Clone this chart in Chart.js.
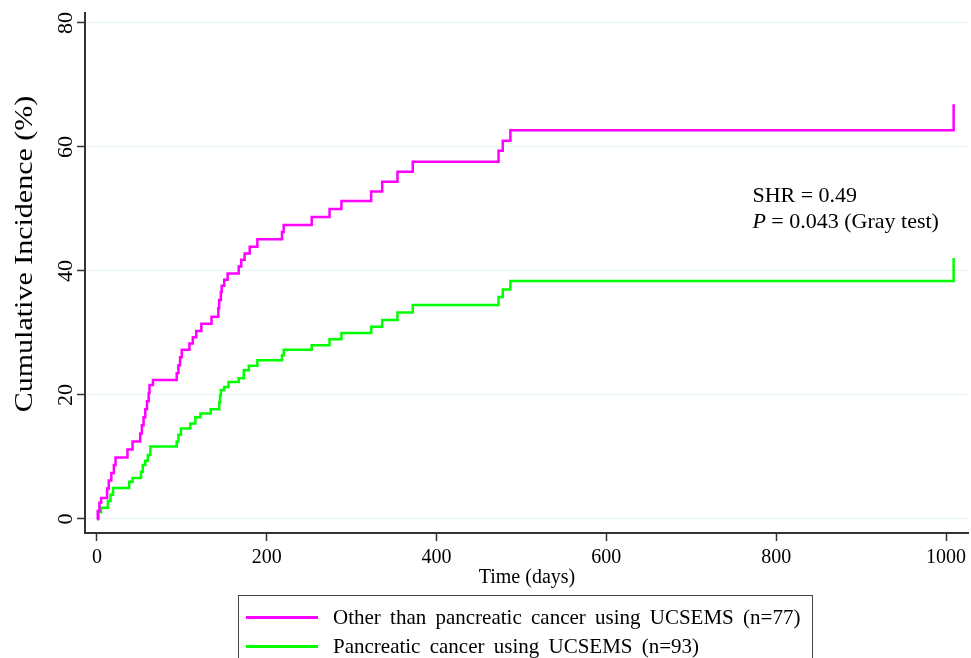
<!DOCTYPE html>
<html>
<head>
<meta charset="utf-8">
<title>Cumulative incidence</title>
<script src="https://cdn.jsdelivr.net/npm/chart.js@4.4.1/dist/chart.umd.min.js"></script>
<style>
  body { margin: 0; background: #fff; }
  #wrap { position: relative; width: 971px; height: 658px; overflow: hidden; }
  #legend {
    position: absolute; left: 238px; top: 595px; width: 575px; height: 90px;
    border: 1.5px solid #444; box-sizing: border-box;
    font-family: "Liberation Serif", "Times New Roman", serif; font-size: 21px; color: #000;
  }
  .legend-item { position: absolute; left: 7px; display: flex; align-items: center; white-space: pre; word-spacing: 4px; }
  .legend-swatch { width: 72px; height: 3px; margin-right: 15px; }
</style>
</head>
<body>
<div id="wrap">
  <canvas id="cifChart" width="971" height="658"></canvas>
  <div id="legend"></div>
</div>
<script>
// -----------------------------
// Data
// -----------------------------
const seriesLabels = [
  "Other than pancreatic cancer using UCSEMS (n=77)",
  "Pancreatic cancer using UCSEMS (n=93)"
];
const seriesColors = ["#ff00ff", "#00ff00"];

// days / cumulative incidence (%) at each step
const otherDays = [0, 1, 3, 5, 12, 14, 17, 20, 22, 36, 42, 51, 53, 55, 57, 59, 61, 62, 66, 94, 96, 98, 100, 109, 113, 117, 123, 135, 143, 144, 146, 147, 150, 154, 167, 170, 174, 180, 189, 218, 220, 253, 274, 288, 323, 336, 354, 372, 473, 478, 487, 1009];
const otherIncidence = [0, 1.3, 2.6, 3.4, 4.9, 6.2, 7.4, 8.7, 9.9, 11.2, 12.5, 13.8, 15.1, 16.4, 17.7, 19.0, 20.3, 21.6, 22.4, 23.5, 24.8, 26.1, 27.3, 28.3, 29.3, 30.3, 31.5, 32.6, 34.0, 35.3, 36.6, 37.6, 38.6, 39.6, 40.7, 41.8, 42.8, 43.9, 45.1, 46.3, 47.4, 48.7, 50.0, 51.3, 52.8, 54.4, 56.0, 57.6, 59.4, 61.0, 62.7, 66.9];

const pancDays = [0, 2, 5, 13, 16, 19, 38, 42, 52, 54, 57, 60, 63, 94, 96, 99, 110, 116, 122, 134, 144, 145, 146, 150, 155, 167, 173, 179, 189, 218, 220, 253, 274, 288, 323, 336, 354, 372, 473, 478, 487, 1009];
const pancIncidence = [0, 1.1, 1.8, 2.9, 3.9, 5.0, 6.0, 6.6, 7.6, 8.7, 9.4, 10.3, 11.7, 12.5, 13.6, 14.6, 15.4, 16.4, 17.0, 17.7, 18.8, 19.9, 20.8, 21.3, 22.1, 22.7, 24.0, 24.7, 25.6, 26.4, 27.3, 28.0, 29.0, 30.0, 31.0, 32.1, 33.3, 34.5, 35.8, 37.0, 38.4, 42.1];

const xTicks = [0, 200, 400, 600, 800, 1000];
const yTicks = [0, 20, 40, 60, 80];

const xTitle = "Time (days)";
const yTitle = "Cumulative Incidence (%)";

// -----------------------------
// DOM Elements
// -----------------------------
const chartEl = document.getElementById("cifChart");
const legendEl = document.getElementById("legend");

const serif = '"Liberation Serif", "Times New Roman", serif';

function toPoints(days, values) {
  return days.map((d, i) => ({ x: d, y: values[i] }));
}

// -----------------------------
// Extra text: rotated y ticks, y title, SHR note
// -----------------------------
const textPlugin = {
  id: "textPlugin",
  afterDraw(chart) {
    const ctx = chart.ctx;
    const xScale = chart.scales.x;
    const yScale = chart.scales.y;
    ctx.save();
    ctx.fillStyle = "#000";
    ctx.textAlign = "center";
    ctx.textBaseline = "middle";

    // y tick labels, turned like the original
    ctx.font = "22px " + serif;
    yTicks.forEach(v => {
      ctx.save();
      ctx.translate(66, yScale.getPixelForValue(v));
      ctx.rotate(-Math.PI / 2);
      ctx.fillText(String(v), 0, 0);
      ctx.restore();
    });

    // y axis title
    ctx.save();
    ctx.translate(25, 254);
    ctx.rotate(-Math.PI / 2);
    ctx.scale(1.2, 1);
    ctx.font = "25px " + serif;
    ctx.fillText(yTitle, 0, 0);
    ctx.restore();

    // test result
    ctx.textAlign = "left";
    ctx.textBaseline = "alphabetic";
    const ax = xScale.getPixelForValue(772);
    ctx.font = "22px " + serif;
    ctx.fillText("SHR = 0.49", ax, yScale.getPixelForValue(51.1));
    const y2 = yScale.getPixelForValue(46.9);
    ctx.font = "italic 22px " + serif;
    ctx.fillText("P", ax, y2);
    const pw = ctx.measureText("P").width;
    ctx.font = "22px " + serif;
    ctx.fillText(" = 0.043 (Gray test)", ax + pw, y2);
    ctx.restore();
  }
};

// -----------------------------
// Render chart
// -----------------------------
function renderChart() {
  const chart = new Chart(chartEl.getContext("2d"), {
    type: "line",
    data: {
      datasets: [
        {
          label: seriesLabels[0],
          data: toPoints(otherDays, otherIncidence),
          borderColor: seriesColors[0],
          borderWidth: 2.5,
          stepped: "before",
          pointRadius: 0,
          fill: false
        },
        {
          label: seriesLabels[1],
          data: toPoints(pancDays, pancIncidence),
          borderColor: seriesColors[1],
          borderWidth: 2.5,
          stepped: "before",
          pointRadius: 0,
          fill: false
        }
      ]
    },
    options: {
      responsive: false,
      animation: false,
      devicePixelRatio: 1,
      layout: { padding: { top: 13, right: 0, bottom: 68, left: 0 } },
      plugins: {
        legend: { display: false },
        tooltip: { enabled: false }
      },
      scales: {
        x: {
          type: "linear",
          min: -14,
          max: 1027,
          afterBuildTicks: scale => { scale.ticks = xTicks.map(v => ({ value: v })); },
          afterFit: scale => { scale.height = 57; },
          grid: { drawOnChartArea: false, tickLength: 8, tickColor: "#333", tickWidth: 1.5 },
          border: { color: "#333", width: 2 },
          ticks: {
            color: "#000", padding: 5, maxRotation: 0,
            font: { family: serif, size: 20 },
            callback: value => String(value)
          },
          title: { display: true, text: xTitle, color: "#000", padding: { top: 0, bottom: 0 }, font: { family: serif, size: 20 } }
        },
        y: {
          min: -2.26,
          max: 81.6,
          afterBuildTicks: scale => { scale.ticks = yTicks.map(v => ({ value: v })); },
          afterFit: scale => { scale.width = 85; },
          grid: { color: "#e3f4f5", lineWidth: 1, tickLength: 8, tickColor: "#333", tickWidth: 1.5 },
          border: { color: "#333", width: 2 },
          ticks: { display: false }
        }
      }
    },
    plugins: [textPlugin]
  });

  // legend box under the plot
  chart.data.datasets.forEach((ds, i) => {
    const row = document.createElement("div");
    row.className = "legend-item";
    row.style.top = (9 + i * 29) + "px";
    const sw = document.createElement("span");
    sw.className = "legend-swatch";
    sw.style.background = ds.borderColor;
    const txt = document.createElement("span");
    txt.textContent = ds.label;
    row.appendChild(sw);
    row.appendChild(txt);
    legendEl.appendChild(row);
  });
}

// -----------------------------
// Initialize
// -----------------------------
document.addEventListener("DOMContentLoaded", renderChart);
</script>
</body>
</html>
